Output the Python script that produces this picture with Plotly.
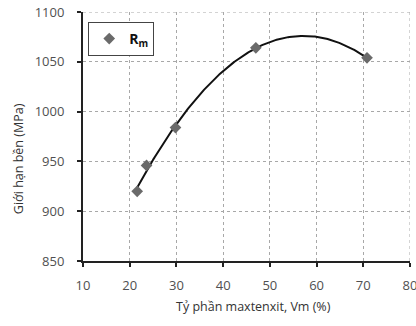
import numpy as np
import plotly.graph_objects as go

# Martensite fraction Vm (%) and tensile strength Rm (MPa)
vm = [21.6, 23.6, 29.8, 47.0, 70.8]
rm = [920, 946, 984, 1064, 1054]

x_ticks = [10, 20, 30, 40, 50, 60, 70, 80]
y_ticks = [850, 900, 950, 1000, 1050, 1100]

# Polynomial trendline through the measured points
coef = np.polyfit(vm, rm, 3)
xs = np.linspace(min(vm) - 0.2, max(vm), 200)
ys = np.polyval(coef, xs)

font_family = "Open Sans, Noto Sans, DejaVu Sans, sans-serif"
grid_color = "#a8a8a8"

fig = go.Figure()
fig.add_trace(go.Scatter(
    x=xs, y=ys, mode="lines",
    line=dict(color="#111111", width=2),
    showlegend=False, hoverinfo="skip",
))
fig.add_trace(go.Scatter(
    x=vm, y=rm, mode="markers", name="<b>R<sub>m</sub></b>",
    marker=dict(symbol="diamond", size=9, color="#6a6a6a"),
))

axis_common = dict(
    showline=True, linecolor="#222222", linewidth=2,
    showgrid=True, gridcolor=grid_color, gridwidth=1, griddash="dot",
    ticks="outside", ticklen=4, tickwidth=2, tickcolor="#222222",
    tickfont=dict(family=font_family, size=13, color="#505050"),
    zeroline=False, ticklabeloverflow="allow", automargin=False,
)

fig.update_xaxes(range=[10, 80], tickvals=x_ticks, ticklabelstandoff=7, **axis_common)
fig.update_yaxes(range=[850, 1100], tickvals=y_ticks, ticklabelstandoff=10, **axis_common)

# Dashed frame on the top and right edges, continuing the grid pattern
x_lo, x_hi = x_ticks[0], x_ticks[-1]
y_lo, y_hi = y_ticks[0], y_ticks[-1]
for x0, y0, x1, y1 in [(x_lo, y_hi, x_hi, y_hi), (x_hi, y_lo, x_hi, y_hi)]:
    fig.add_shape(type="line", xref="x", yref="y", x0=x0, y0=y0, x1=x1, y1=y1,
                  line=dict(color=grid_color, width=1, dash="dot"), layer="below")

fig.add_annotation(
    text="Tỷ phần maxtenxit, Vm (%)", xref="paper", yref="paper",
    x=0.52, y=-0.14, xanchor="center", yanchor="top", showarrow=False,
    font=dict(family=font_family, size=12.5, color="#333333"),
)
fig.add_annotation(
    text="Giới hạn bền (MPa)", xref="paper", yref="paper",
    x=-0.195, y=0.41, xanchor="center", yanchor="middle", showarrow=False,
    textangle=-90,
    font=dict(family=font_family, size=12.5, color="#333333"),
)

fig.update_layout(
    width=416, height=326,
    margin=dict(l=83, r=6, t=12, b=65),
    paper_bgcolor="white", plot_bgcolor="white",
    legend=dict(
        x=0.016, y=0.96, xanchor="left", yanchor="top",
        bordercolor="#444444", borderwidth=1, bgcolor="white",
        font=dict(family=font_family, size=14, color="#111111"),
        itemwidth=30, tracegroupgap=0,
    ),
)

fig.write_html("out.html")
